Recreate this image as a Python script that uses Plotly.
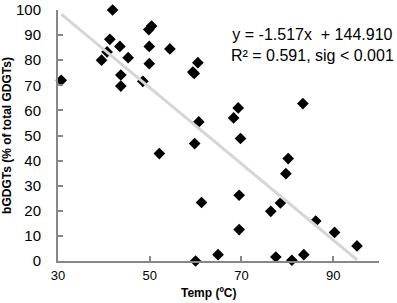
import plotly.graph_objects as go

# Data
temp = [30.7, 39.5, 40.7, 41.3, 41.9, 43.5, 43.7, 43.7, 45.3, 48.5,
        49.9, 49.9, 49.8, 50.4, 52.1, 54.4, 59.4, 59.7, 60.5, 60.7,
        59.8, 61.3, 60.0, 64.9, 68.3, 69.3, 69.8, 69.5, 69.5, 76.4,
        77.5, 78.5, 79.7, 80.2, 81.0, 83.4, 83.6, 86.2, 90.3, 95.2]
bgdgt = [72.0, 80.0, 83.3, 88.3, 100.0, 85.5, 74.1, 69.7, 81.0, 71.6,
         85.5, 78.6, 92.2, 93.6, 42.8, 84.5, 75.3, 74.7, 79.0, 55.4,
         46.8, 23.3, 0.0, 2.5, 57.0, 61.0, 48.8, 26.2, 12.5, 19.8,
         1.6, 23.1, 34.8, 40.8, 0.3, 62.7, 2.5, 15.9, 11.4, 6.0]

slope = -1.517
intercept = 144.910
r2_text = "R² = 0.591, sig < 0.001"
x_ticks = [30, 50, 70, 90]
y_ticks = [0, 10, 20, 30, 40, 50, 60, 70, 80, 90, 100]

trend_x = [min(temp), max(temp)]
trend_y = [slope * v + intercept for v in trend_x]

fig = go.Figure()
fig.add_trace(go.Scatter(
    x=temp, y=bgdgt, mode="markers",
    marker=dict(symbol="diamond", size=9, color="black"),
    cliponaxis=False, showlegend=False))
fig.add_trace(go.Scatter(
    x=trend_x, y=trend_y, mode="lines",
    line=dict(color="#d6d6d6", width=3),
    cliponaxis=False, showlegend=False))

axis_col = "#878787"
fig.update_layout(
    width=397, height=303,
    margin=dict(l=58, r=18, t=10, b=42),
    paper_bgcolor="white", plot_bgcolor="white",
    font=dict(family="Liberation Sans, Arial, sans-serif", color="black"),
    xaxis=dict(range=[30, 100], tickvals=x_ticks, ticks="inside", ticklen=5,
               tickwidth=2, tickcolor=axis_col, showline=True, linecolor=axis_col,
               linewidth=2, showgrid=False, zeroline=False, automargin=False,
               tickfont=dict(size=13), ticklabelstandoff=1),
    yaxis=dict(range=[0, 100], tickvals=y_ticks, ticks="inside", ticklen=5,
               tickwidth=2, tickcolor=axis_col, showline=True, linecolor=axis_col,
               linewidth=2, showgrid=False, zeroline=False, automargin=False,
               tickfont=dict(size=15), ticklabelstandoff=12,
               ticklabeloverflow="allow",
               title=dict(text="<b>bGDGTs (% of total GDGTs)</b>",
                          font=dict(size=12), standoff=4)),
    annotations=[
        dict(text=f"y = {slope:.3f}x  + {intercept:.3f}<br>{r2_text}",
             xref="paper", yref="paper", x=0.793, y=0.859,
             xanchor="center", yanchor="middle", showarrow=False,
             font=dict(size=16)),
        dict(text="<b>Temp (ºC)</b>", xref="paper", yref="paper",
             x=0.47, y=-0.127, xanchor="center", yanchor="middle",
             showarrow=False, font=dict(size=12)),
    ],
)

fig.write_html("out.html", config={"displayModeBar": False},
               post_script="document.body.style.margin='0px';")
